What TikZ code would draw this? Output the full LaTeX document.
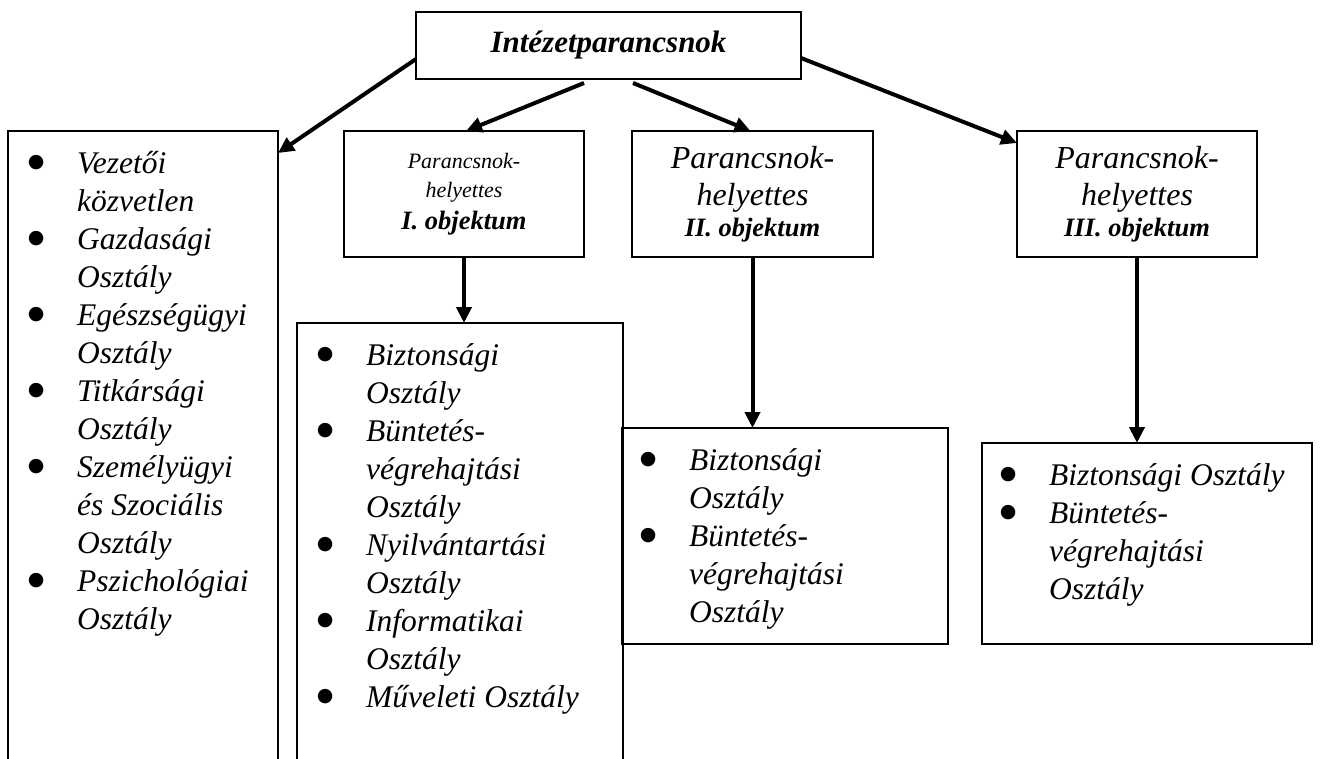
\documentclass[tikz,border=0pt]{standalone}
\usepackage{fontspec}
\setmainfont{Liberation Serif}
\newfontfamily\dotfont{DejaVu Sans}
\usetikzlibrary{arrows.meta, positioning}
\newcommand{\itm}[1]{\strut\makebox[61pt][l]{\makebox[40pt][c]{\raisebox{5.5pt}{\dotfont\fontsize{19}{20}\selectfont ●}}}#1}
\newcommand{\cnt}[1]{\strut\hspace*{61pt}#1}

\begin{document}
\begin{tikzpicture}[x=1pt, y=1pt,
    frame/.style={rectangle, draw, line width=1.3pt, inner sep=0pt, outer sep=0pt, align=center},
    arr/.style={-{Triangle[length=16pt, width=15pt]}, line width=4pt},
    lst/.style={anchor=north west, inner sep=0pt, align=left, font=\fontsize{31.5}{38}\selectfont\itshape},
]
    \useasboundingbox (0,0) rectangle (1320,-758);
    \clip (0,0) rectangle (1320,-758);

    \node[frame, minimum width=385pt, minimum height=67pt, font=\fontsize{31}{37}\selectfont\bfseries\itshape] (chief) at (608.5,-45.5) {Intézetparancsnok};
    \node[frame, minimum width=270pt, minimum height=650pt, anchor=north west] (direct) at (8,-131) {};
    \node[frame, minimum width=240pt, minimum height=126pt, anchor=north west, font=\fontsize{22}{29}\selectfont\itshape] (dep1) at (344,-131) {Parancsnok-\\helyettes\\[3pt]{\fontsize{26.5}{31}\selectfont\bfseries I. objektum}};
    \node[frame, minimum width=241pt, minimum height=126pt, anchor=north west, font=\fontsize{32}{37}\selectfont\itshape] (dep2) at (632,-131) {Parancsnok-\\helyettes\\[-6pt]{\fontsize{26.5}{31}\selectfont\bfseries II. objektum}};
    \node[frame, minimum width=240pt, minimum height=126pt, anchor=north west, font=\fontsize{32}{37}\selectfont\itshape] (dep3) at (1017,-131) {Parancsnok-\\helyettes\\[-6pt]{\fontsize{26.5}{31}\selectfont\bfseries III. objektum}};

    \node[frame, minimum width=326pt, minimum height=460pt, below=66pt of dep1, xshift=-4pt] (sec1) {};
    \node[frame, minimum width=326pt, minimum height=216pt, below=171pt of dep2, xshift=32.5pt] (sec2) {};
    \node[frame, minimum width=330pt, minimum height=201pt, below=186pt of dep3, xshift=10pt] (sec3) {};

    % lists
    \node[lst] (direct-t) at ([shift={(8,-15.4)}]direct.north west) {\itm{Vezetői}\\\cnt{közvetlen}\\\itm{Gazdasági}\\\cnt{Osztály}\\\itm{Egészségügyi}\\\cnt{Osztály}\\\itm{Titkársági}\\\cnt{Osztály}\\\itm{Személyügyi}\\\cnt{és Szociális}\\\cnt{Osztály}\\\itm{Pszichológiai}\\\cnt{Osztály}};
    \node[lst] (sec1-t) at ([shift={(8,-15.4)}]sec1.north west) {\itm{Biztonsági}\\\cnt{Osztály}\\\itm{Büntetés-}\\\cnt{végrehajtási}\\\cnt{Osztály}\\\itm{Nyilvántartási}\\\cnt{Osztály}\\\itm{Informatikai}\\\cnt{Osztály}\\\itm{Műveleti Osztály}};
    \node[lst] (sec2-t) at ([shift={(6,-15.4)}]sec2.north west) {\itm{Biztonsági}\\\cnt{Osztály}\\\itm{Büntetés-}\\\cnt{végrehajtási}\\\cnt{Osztály}};
    \node[lst] (sec3-t) at ([shift={(6,-15.4)}]sec3.north west) {\itm{Biztonsági Osztály}\\\itm{Büntetés-}\\\cnt{végrehajtási}\\\cnt{Osztály}};

    \draw[arr] ([yshift=-13.5pt]chief.west) -- ([yshift=-22pt]direct.north east);
    \draw[arr] ([xshift=-24.5pt, yshift=-4pt]chief.south) -- ([xshift=2pt]dep1.north);
    \draw[arr] ([xshift=24.5pt, yshift=-4pt]chief.south) -- ([xshift=-2pt]dep2.north);
    \draw[arr] ([yshift=-12.5pt]chief.east) -- ([yshift=-12pt]dep3.north west);
    \draw[arr] (dep1.south) -- (dep1.south |- sec1.north);
    \draw[arr] (dep2.south) -- (dep2.south |- sec2.north);
    \draw[arr] (dep3.south) -- (dep3.south |- sec3.north);
\end{tikzpicture}
\end{document}
